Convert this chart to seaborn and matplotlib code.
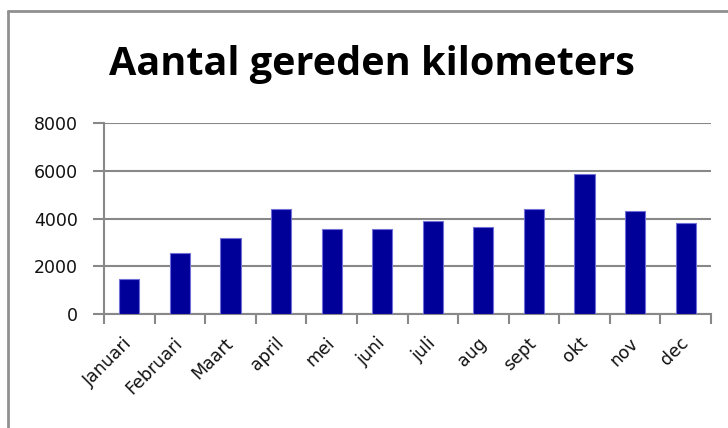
import matplotlib
matplotlib.use("Agg")
import matplotlib.pyplot as plt
import seaborn as sns
import pandas as pd
import numpy as np
from matplotlib.lines import Line2D

months = ["Januari", "Februari", "Maart", "april", "mei", "juni", "juli", "aug", "sept", "okt", "nov", "dec"]
km = [1450, 2550, 3200, 4400, 3550, 3550, 3900, 3650, 4400, 5850, 4300, 3800]
yticks = [0, 2000, 4000, 6000, 8000]
title = "Aantal gereden kilometers"

sns.set_style("white")
plt.rcParams['font.family'] = ['DejaVu Sans']

df = pd.DataFrame({"maand": months, "km": km})

fig = plt.figure(figsize=(7.28, 4.28), dpi=100)
W, H = 728, 428
ax = fig.add_axes([104 / W, 1 - 314 / H, (711 - 104) / W, (314 - 123) / H])

sns.barplot(data=df, x="maand", y="km", color="#000099", width=0.4,
            edgecolor="#7070d8", linewidth=0.8, saturation=1, ax=ax, zorder=3)

ax.set_ylim(0, 8000)
ax.set_xlim(-0.5, len(months) - 0.5)
ax.set_yticks(yticks)
ax.set_yticklabels([str(v) for v in yticks], fontsize=12.5, color="#111111")
ax.set_xticks(range(len(months)))
ax.set_xticklabels(months, rotation=45, ha="right", va="center", rotation_mode="anchor",
                   fontsize=12.5, color="#111111")
ax.tick_params(axis="x", which="major", length=0, pad=19)
ax.set_xticks(np.arange(-0.5, len(months)), minor=True)
ax.tick_params(axis="x", which="minor", length=7, color="#888888", width=1.5, direction="out", bottom=True)
ax.tick_params(axis="y", length=8, color="#888888", width=1.5, direction="out", left=True, pad=11)
ax.set_xlabel("")
ax.set_ylabel("")
ax.grid(axis="y", color="#888888", linewidth=1.5, zorder=0)
ax.set_axisbelow(True)
for s in ["top", "right"]:
    ax.spines[s].set_visible(False)
for s in ["left", "bottom"]:
    ax.spines[s].set_color("#888888")
    ax.spines[s].set_linewidth(1.5)

fig.text(372 / W, 1 - 75 / H, title, ha="center", va="baseline", fontsize=28.5,
         fontweight="bold", family="Open Sans", color="black")

# outer chart frame (left and top edges visible)
fig.add_artist(Line2D([8 / W, 8 / W], [0, 1 - 11 / H], transform=fig.transFigure, color="#909090", lw=2.0))
fig.add_artist(Line2D([8 / W, 1], [1 - 11 / H, 1 - 11 / H], transform=fig.transFigure, color="#909090", lw=2.0))

fig.savefig("out.png", dpi=100)
